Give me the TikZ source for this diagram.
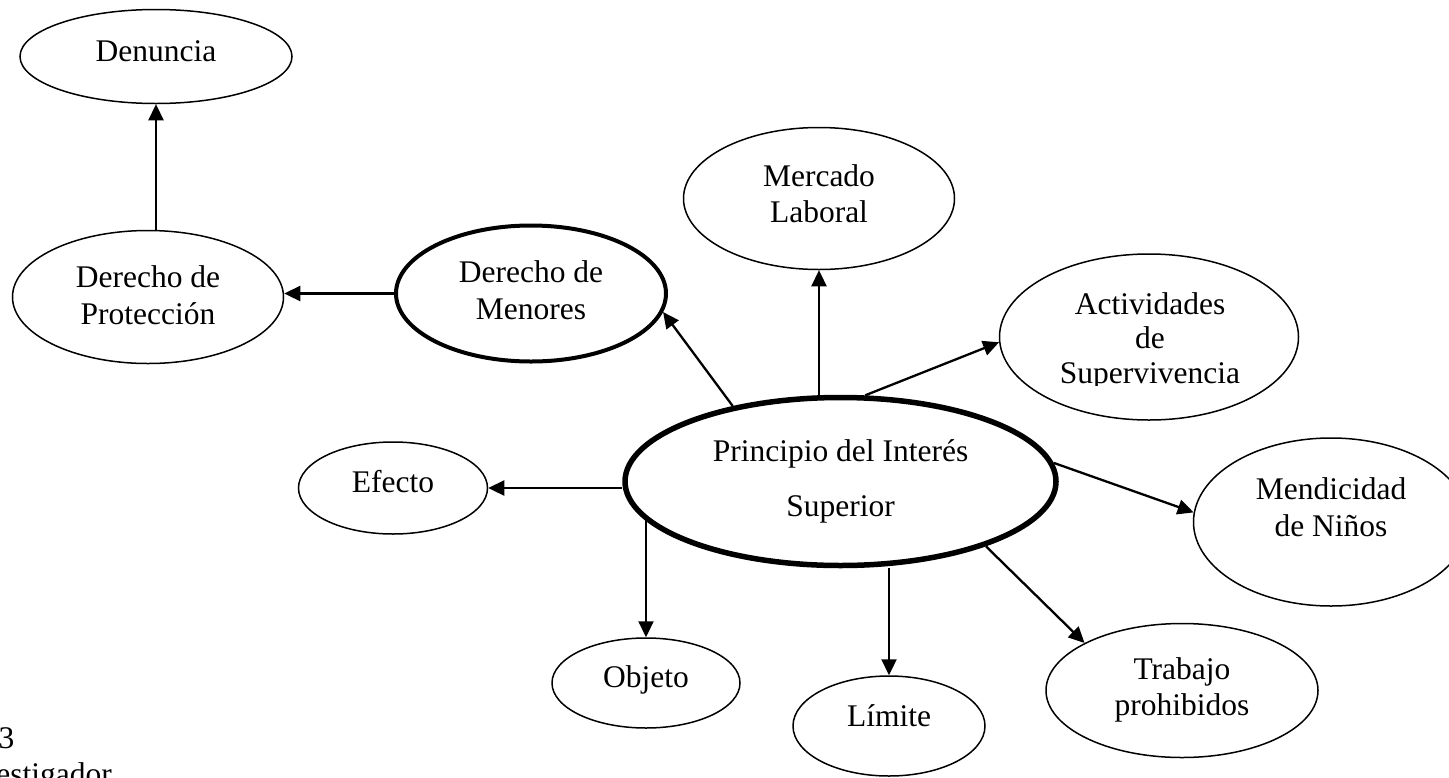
\documentclass[tikz,border=0pt]{standalone}
\usepackage{fontspec}
\setmainfont{Liberation Serif}
\usetikzlibrary{shapes.geometric,arrows.meta}
\begin{document}
\begin{tikzpicture}[x=1pt,y=-1pt,
  oval/.style={draw,ellipse,line width=1.5pt,inner sep=0pt},
  lab/.style={align=center,font=\fontsize{31.5}{36.5}\selectfont,inner sep=0pt},
  arr/.style={line width=2.3pt,-{Triangle[length=16pt,width=15pt]}},
]
\useasboundingbox (0,0) rectangle (1449,777);

% ellipses
\node[oval, minimum width=272pt, minimum height=94pt,
      label={[lab,yshift=5.5pt]center:Denuncia}] (den) at (156,56.5) {};
\node[oval, minimum width=271pt, minimum height=133pt,
      label={[lab,yshift=2pt]center:Derecho de\\Protección}] (prot) at (148,297) {};
\node[oval, line width=4pt, minimum width=270pt, minimum height=136pt,
      label={[lab,yshift=3.5pt]center:Derecho de\\Menores}] (men) at (531,293.5) {};
\node[oval, minimum width=271pt, minimum height=142pt,
      label={[lab,yshift=5pt]center:Mercado\\Laboral}] (mer) at (819,198.5) {};
\node[oval, minimum width=299pt, minimum height=166pt] (act) at (1149,337) {};
\node[oval, line width=5.5pt, minimum width=431pt, minimum height=168pt,
      label={[lab,font=\fontsize{31.5}{55}\selectfont,yshift=0.5pt]center:Principio del Interés\\Superior}] (cen) at (840.5,481.5) {};
\node[oval, minimum width=189pt, minimum height=92pt,
      label={[lab,yshift=6.5pt]center:Efecto}] (ef) at (393,488) {};
\node[oval, minimum width=188pt, minimum height=90pt,
      label={[lab,yshift=3pt]center:Objeto}] (obj) at (646,683) {};
\node[oval, minimum width=192pt, minimum height=100pt,
      label={[lab,yshift=10pt]center:Límite}] (lim) at (889,726) {};
\node[oval, minimum width=272pt, minimum height=134pt,
      label={[lab,yshift=0.5pt]center:Trabajo\\prohibidos}] (trab) at (1182,690.5) {};
\node[oval, minimum width=275pt, minimum height=168pt,
      label={[lab,yshift=15pt]center:Mendicidad\\de Niños}] (mend) at (1331,522) {};

% clipped text of Actividades
\begin{scope}
  \clip (990,250) rectangle (1300,385);
  \node[lab,font=\fontsize{31.5}{34.5}\selectfont] (acttxt) at (1150,341) {Actividades\\de\\Supervivencia};
\end{scope}

% connectors
\draw[arr] (prot.north -| den.south) -- (den.south);
\draw[arr] (men.west) -- (prot.east |- men.west);
\draw[arr] (cen.145) -- (men.-8);
\draw[arr] (cen.north -| mer.south) -- (mer.south);
\draw[arr] (cen.74) -- (act.182);
\draw[arr] (cen.5) -- (mend.176);
\draw[arr] (cen.-24) -- (trab.154);
\draw[arr] (cen.south -| lim.north) -- (lim.north);
\draw[arr] (obj.north |- cen.191) -- (obj.north);
\draw[arr] (cen.west |- ef.east) -- (ef.east);

% cut-off caption fragments (cut at the picture's edges as in the reference)
\node[anchor=base west, font=\fontsize{31.5}{36}\selectfont, inner sep=0pt] (fignum) at (-1.5,748) {3};
\node[anchor=base east, font=\fontsize{31.5}{36}\selectfont, inner sep=0pt] (fuente) at (112,784) {estigador};
\end{tikzpicture}
\end{document}
